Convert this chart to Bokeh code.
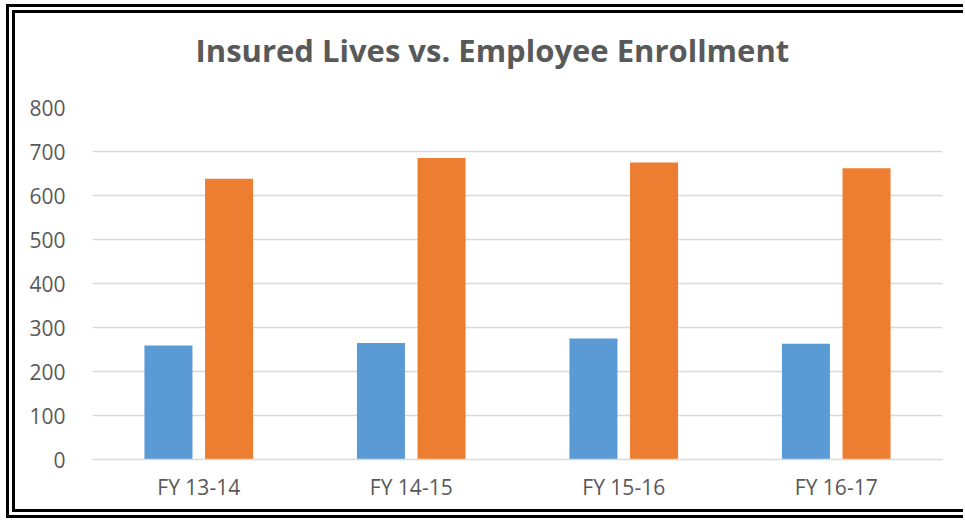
from bokeh.plotting import figure
from bokeh.models import FactorRange, Range1d, ColumnDataSource, Title, FixedTicker
from bokeh.transform import dodge
from bokeh.embed import file_html
from bokeh.resources import INLINE

# ---- data ----
categories = ["FY 13-14", "FY 14-15", "FY 15-16", "FY 16-17"]
employee_enrollment = [259, 265, 275, 263]
insured_lives = [638, 685, 675, 662]
y_ticks = [0, 100, 200, 300, 400, 500, 600, 700, 800]
title_text = "Insured Lives vs. Employee Enrollment"

source = ColumnDataSource(dict(cat=categories, emp=employee_enrollment, ins=insured_lives))

TEXT = "#595959"
GRID = "#d9d9d9"
FONT = "Open Sans"
W, H = 957, 514

p = figure(
    width=W, height=H,
    x_range=FactorRange(*categories, range_padding=0),
    y_range=Range1d(0, 800),
    output_backend="svg", toolbar_location=None,
    min_border_left=77, min_border_right=30, min_border_top=94, min_border_bottom=68,
)
p.title = Title(text=title_text, align="left", text_font=FONT, text_font_style="bold",
                text_font_size="31px", text_color=TEXT, standoff=0, offset=103)
# blank spacer panel between the title and the plot area
p.add_layout(Title(text=" ", text_font=FONT, text_font_size="20px", standoff=8), "above")

p.vbar(x=dodge("cat", -0.1426, range=p.x_range), top="emp", width=0.226, source=source,
       fill_color="#5B9BD5", line_color=None)
p.vbar(x=dodge("cat", 0.1426, range=p.x_range), top="ins", width=0.226, source=source,
       fill_color="#ED7D31", line_color=None)

p.outline_line_color = None
p.background_fill_color = "white"
p.border_fill_color = "white"

# grid
p.xgrid.grid_line_color = None
p.ygrid.grid_line_color = GRID
p.ygrid.grid_line_width = 1.3
p.yaxis.ticker = FixedTicker(ticks=y_ticks)

# y axis
p.yaxis.axis_line_color = None
p.yaxis.major_tick_line_color = None
p.yaxis.minor_tick_line_color = None
p.yaxis.major_tick_out = 0
p.yaxis.major_label_standoff = 27
p.yaxis.major_label_text_font = FONT
p.yaxis.major_label_text_font_size = "21px"
p.yaxis.major_label_text_color = TEXT

# x axis
p.xaxis.axis_line_color = GRID
p.xaxis.axis_line_width = 1.5
p.xaxis.major_tick_line_color = None
p.xaxis.minor_tick_line_color = None
p.xaxis.major_tick_out = 0
p.xaxis.major_label_standoff = 13
p.xaxis.major_label_text_font = FONT
p.xaxis.major_label_text_font_size = "21px"
p.xaxis.major_label_text_color = TEXT

# double frame around the chart (right edge runs off the picture in the reference)
p.styles = {"border": "9px double #000000", "border-right": "none",
            "margin-left": "6px", "margin-top": "4px"}

open("out.html", "w").write(file_html(p, INLINE))
